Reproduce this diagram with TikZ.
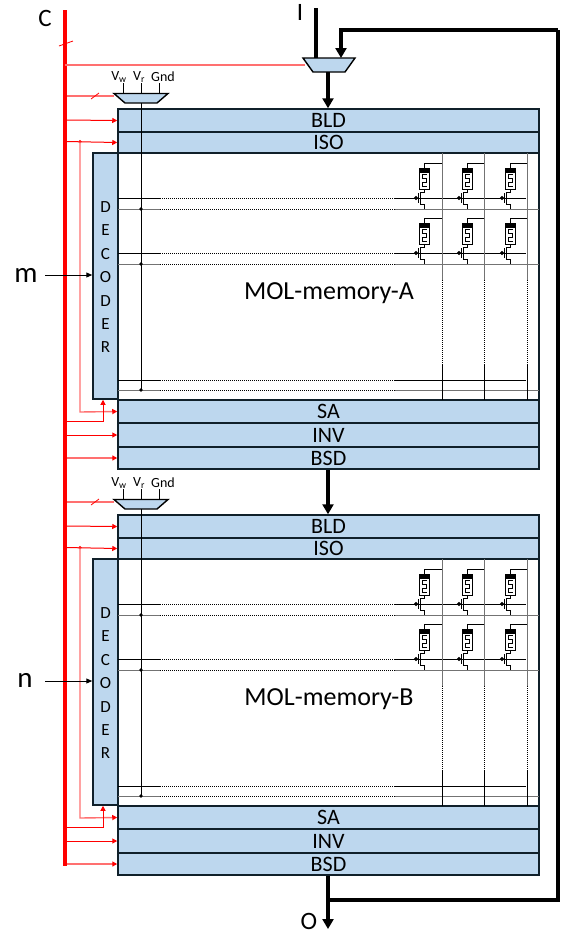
\documentclass[tikz,border=0pt]{standalone}
\usepackage{fontspec}
\setmainfont{Carlito}
\usetikzlibrary{arrows.meta}
\definecolor{blk}{HTML}{BDD7EE}
\definecolor{pinkred}{HTML}{FF7070}
\definecolor{edge}{HTML}{10202A}
\newcommand{\bartext}[1]{\raisebox{-1.2pt}{#1}}
\tikzset{
  x=1pt,y=-1pt,
  bar/.style={draw=edge,line width=1.5pt,fill=blk,inner sep=0pt,font=\fontsize{22}{22}\selectfont},
  muxbox/.style={draw=black,line width=1.4pt,fill=blk,line join=miter},
  wide/.style={line width=3.5pt,-{Triangle[length=10pt,width=11pt]}},
  widen/.style={line width=3.5pt},
  sig/.style={red,line width=1pt,-{Triangle[length=5pt,width=5pt]}},
  sigp/.style={pinkred,line width=1.4pt,-{Triangle[length=5pt,width=5pt,color=red]}},
  sigl/.style={pinkred,line width=1.4pt},
  thin1/.style={black,line width=.8pt},
  gray1/.style={black!55,line width=.8pt},
  dots/.style={black,line width=.8pt,dash pattern=on 1pt off 1pt},
  lab/.style={font=\fontsize{29}{29}\selectfont,inner sep=0pt},
  capl/.style={font=\fontsize{25}{25}\selectfont,inner sep=0pt},
  volt/.style={font=\fontsize{14}{14}\selectfont,inner sep=0pt},
  dec/.style={font=\fontsize{17}{17}\selectfont,inner sep=0pt},
  dotn/.style={circle,fill=black,inner sep=0pt,minimum size=3.6pt},
  rdot/.style={circle,fill=red,inner sep=0pt,minimum size=3.5pt},
}
% one memory cell: #1 x of the cell, #2 y of top stub, #3 x of the bit line
\newcommand{\memcell}[3]{
  \draw[thin1] (#3,#2) -- (#1,#2) -- (#1,#2+5);
  \draw[thin1,fill=white] (#1-5,#2+5) rectangle (#1+5,#2+26);
  \fill[black] (#1-5,#2+5) rectangle (#1+5,#2+10);
  \draw[black,line width=.7pt] (#1+2.5,#2+11) -- (#1-2,#2+11) -- (#1-2,#2+15) -- (#1+2.5,#2+15) -- (#1+2.5,#2+19) -- (#1-2,#2+19) -- (#1-2,#2+23) -- (#1+2.5,#2+23);
  \draw[thin1] (#1,#2+26) -- (#1,#2+29) -- (#1-4,#2+29) -- (#1-4,#2+41) -- (#1,#2+41) -- (#1,#2+46);
  \draw[black,line width=1pt] (#1-6,#2+30) -- (#1-6,#2+40);
  \draw[black,line width=.8pt,fill=black] (#1-8,#2+35) circle (1.6pt);
}
% one memory block: #1 y offset, #2 suffix, #3 title
\newcommand{\memblock}[3]{
  \begin{scope}[yshift=-#1pt]
    \node[draw=edge,line width=1.5pt,fill=white,minimum width=421pt,minimum height=247pt,inner sep=0pt] (main#2) at (328.5,276.5) {};
    \node[bar,minimum width=421pt,minimum height=23pt] (bld#2) at (328.5,120.5) {\bartext{BLD}};
    \node[bar,minimum width=421pt,minimum height=21pt] (iso#2) at (328.5,142.5) {\bartext{ISO}};
    \node[bar,minimum width=421pt,minimum height=23pt] (sa#2) at (328.5,411.5) {\bartext{SA}};
    \node[bar,minimum width=421pt,minimum height=24pt] (inv#2) at (328.5,435) {\bartext{INV}};
    \node[bar,minimum width=421pt,minimum height=22pt] (bsd#2) at (328.5,458) {\bartext{BSD}};
    \node[draw=edge,line width=1.5pt,fill=blk,minimum width=25pt,minimum height=246pt,inner sep=0pt] (dec#2) at (105.5,276) {};
    \foreach \ch [count=\i from 0] in {D,E,C,O,D,E,R} {
      \node[dec] at (105.5,207+23.4*\i) {\ch};
    }
    \node[inner sep=0pt,font=\fontsize{26}{26}\selectfont] (title#2) at (329,293.5) {#3};
    % word and source lines
    \foreach \y/\e in {198/526,253/526,380/526} {
      \draw[thin1] (118,\y) -- (160,\y);
      \draw[dots] (160,\y) -- (395,\y);
      \draw[thin1] (395,\y) -- (\e,\y);
    }
    \foreach \y/\e in {209/539,264/539,390/539} {
      \draw[gray1] (118,\y) -- (160,\y);
      \draw[dots] (160,\y) -- (395,\y);
      \draw[gray1] (395,\y) -- (\e,\y);
    }
    % bit lines
    \foreach \x in {442,484,527} {
      \draw[gray1] (\x,153) -- (\x,280);
      \draw[dots] (\x,280) -- (\x,365);
      \draw[thin1] (\x,365) -- (\x,400);
    }
    \foreach \y in {163,218} {
      \memcell{424}{\y}{442}
      \memcell{467}{\y}{484}
      \memcell{510}{\y}{527}
    }
    \node[dotn] (da#2) at (141,209) {};
    \node[dotn] (db#2) at (141,264) {};
    \node[dotn] (dc#2) at (141,390) {};
    % voltage mux
    \coordinate (vmw#2) at (114,93.5);
    \coordinate (vmo#2) at (141,103);
    \draw[muxbox] (vmw#2) -- (168,93.5) -- (157,103) -- (125,103) -- cycle;
    \coordinate (vw#2) at (123,83);
    \coordinate (vr#2) at (141,83);
    \coordinate (vg#2) at (159,83);
    \draw[thin1] (vw#2) -- (123,93);
    \draw[thin1] (vr#2) -- (141,93);
    \draw[thin1] (vg#2) -- (159,93);
    \draw[thin1] (vmo#2) -- (dc#2.center);
    \node[volt] at (119,77) {V\textsubscript{w}};
    \node[volt] at (139,77) {V\textsubscript{r}};
    \node[volt] at (163,77) {Gnd};
    % control lines
    \coordinate (bus96#2) at (65,96);
    \draw[sigl] (bus96#2) -- (vmw#2 |- bus96#2);
    \draw[red,line width=.8pt] (91,99) -- (99,93);
    \draw[sig] (65,120) -- (bld#2.west);
    \draw[sig] (65,141.5) -- (iso#2.west);
    \node[rdot] (jn#2) at (80,141.5) {};
    \draw[sigp] (jn#2.center) -- (80,412) -- (sa#2.west);
    \coordinate (decfoot#2) at (103,421);
    \draw[sig] (65,421) -- (decfoot#2) -- (decfoot#2 |- dec#2.south);
    \draw[sig] (65,435) -- (inv#2.west);
    \draw[sigp] (65,458) -- (bsd#2.west);
  \end{scope}
}
\begin{document}
\begin{tikzpicture}
\useasboundingbox (0,0) rectangle (570,935);
\memblock{0}{A}{MOL-memory-A}
\memblock{406}{B}{MOL-memory-B}
% bus
\coordinate (bustop) at (65,10);
\coordinate (busbot) at (65,866);
\draw[red,line width=3.5pt] (bustop) -- (busbot);
\draw[red,line width=.8pt] (59,46) -- (73,41);
% input mux
\coordinate (imw) at (303,58);
\coordinate (imo) at (328,72);
\draw[muxbox] (imw) -- (355,58) -- (345,72) -- (313,72) -- cycle;
\coordinate (in) at (316,8);
\coordinate (fbtop) at (341,30);
\coordinate (fbright) at (558,30);
\coordinate (fbbot) at (558,900);
\coordinate (fbjoin) at (328,900);
\coordinate (out) at (328,929);
\draw[widen] (in) -- (in |- imw);
\draw[wide] (fbright) -- (fbtop) -- (fbtop |- imw);
\draw[widen] (fbright) -- (fbbot) -- (fbjoin);
\draw[wide] (imo) -- (imo |- bldA.north);
\draw[wide] (imo |- bsdA.south) -- (imo |- bldB.north);
\draw[wide] (imo |- bsdB.south) -- (out);
\coordinate (busm) at (65,65);
\draw[sigl] (busm) -- (305,65);
% address inputs
\coordinate (mstart) at (45,275);
\coordinate (nstart) at (45,681);
\draw[black,line width=1pt,-{Triangle[length=6pt,width=5pt]}] (mstart) -- (decA.west |- mstart);
\draw[black,line width=1pt,-{Triangle[length=6pt,width=5pt]}] (nstart) -- (decB.west |- nstart);
\node[lab] at (26,275) {m};
\node[lab] at (25,680) {n};
\node[capl] at (45,18) {C};
\node[capl] at (300,12) {I};
\node[capl] at (309,921) {O};
\end{tikzpicture}
\end{document}
